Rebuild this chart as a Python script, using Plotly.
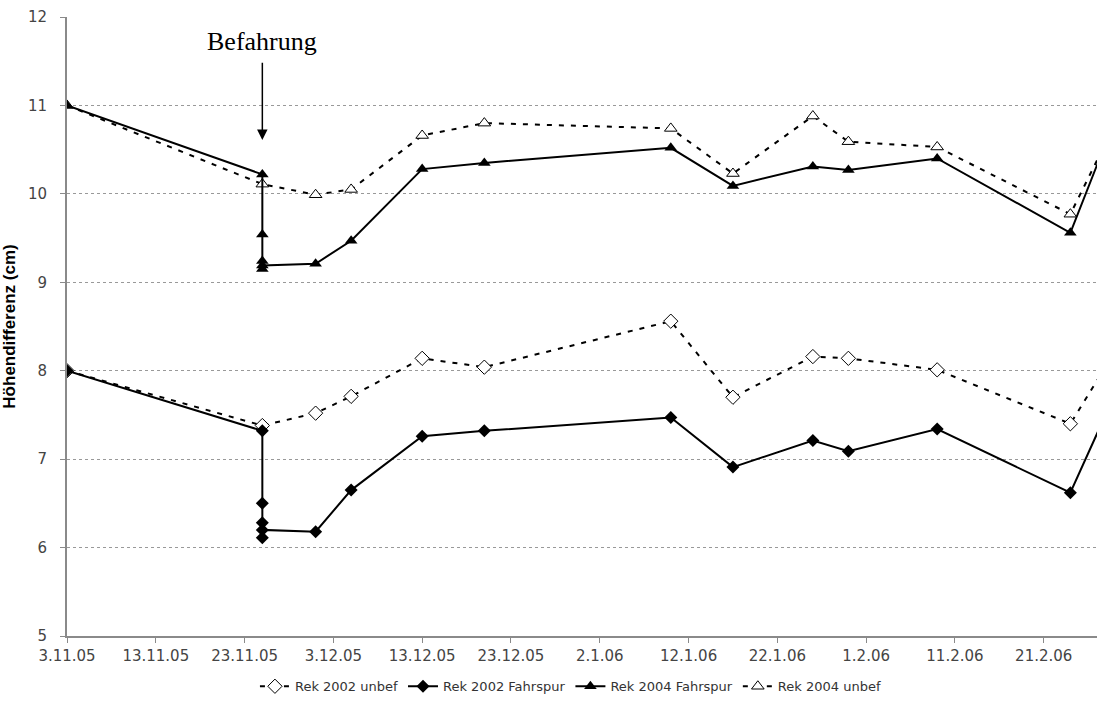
import plotly.graph_objects as go

# Measurement dates (d.m.yy in the source notes) and heights in cm
BEFAHRUNG = "2005-11-25"

dates_2002_unbef = ["2005-11-03", "2005-11-25", "2005-12-01", "2005-12-05", "2005-12-13",
                    "2005-12-20", "2006-01-10", "2006-01-17", "2006-01-26", "2006-01-30",
                    "2006-02-09", "2006-02-24", "2006-02-28"]
vals_2002_unbef = [8.00, 7.38, 7.52, 7.71, 8.14, 8.04, 8.56, 7.70, 8.16, 8.14, 8.01, 7.40, 8.05]

dates_2002_fahr = ["2005-11-03", "2005-11-25", "2005-11-25", "2005-11-25", "2005-11-25",
                   "2005-11-25", "2005-12-01", "2005-12-05", "2005-12-13", "2005-12-20",
                   "2006-01-10", "2006-01-17", "2006-01-26", "2006-01-30", "2006-02-09",
                   "2006-02-24", "2006-02-28"]
vals_2002_fahr = [8.00, 7.32, 6.50, 6.28, 6.11, 6.20, 6.18, 6.65, 7.26, 7.32,
                  7.47, 6.91, 7.21, 7.09, 7.34, 6.62, 7.51]

dates_2004_fahr = list(dates_2002_fahr)
vals_2004_fahr = [11.00, 10.22, 9.54, 9.24, 9.15, 9.19, 9.21, 9.47, 10.28, 10.35,
                  10.52, 10.09, 10.31, 10.27, 10.40, 9.56, 10.58]

dates_2004_unbef = list(dates_2002_unbef)
vals_2004_unbef = [11.00, 10.11, 9.99, 10.05, 10.66, 10.80, 10.74, 10.23, 10.88, 10.59,
                   10.53, 9.77, 10.58]

tick_dates = ["2005-11-03", "2005-11-13", "2005-11-23", "2005-12-03", "2005-12-13",
              "2005-12-23", "2006-01-02", "2006-01-12", "2006-01-22", "2006-02-01",
              "2006-02-11", "2006-02-21"]
tick_text = ["3.11.05", "13.11.05", "23.11.05", "3.12.05", "13.12.05", "23.12.05",
             "2.1.06", "12.1.06", "22.1.06", "1.2.06", "11.2.06", "21.2.06"]

DASH = "5px,7px"
fig = go.Figure()

# untrafficked plots (dashed, open markers) drawn first
fig.add_trace(go.Scatter(
    x=dates_2002_unbef, y=vals_2002_unbef, name="Rek 2002 unbef", legendrank=1,
    mode="lines+markers", line=dict(color="black", width=2, dash=DASH),
    marker=dict(symbol="diamond", size=11, color="white", line=dict(color="black", width=1))))
fig.add_trace(go.Scatter(
    x=dates_2004_unbef, y=vals_2004_unbef, name="Rek 2004 unbef", legendrank=4,
    mode="lines+markers", line=dict(color="black", width=2, dash=DASH),
    marker=dict(symbol="triangle-up", size=11, color="white", line=dict(color="black", width=1))))
# wheel track plots (solid, filled markers)
fig.add_trace(go.Scatter(
    x=dates_2002_fahr, y=vals_2002_fahr, name="Rek 2002 Fahrspur", legendrank=2,
    mode="lines+markers", line=dict(color="black", width=2),
    marker=dict(symbol="diamond", size=10, color="black")))
fig.add_trace(go.Scatter(
    x=dates_2004_fahr, y=vals_2004_fahr, name="Rek 2004 Fahrspur", legendrank=3,
    mode="lines+markers", line=dict(color="black", width=2),
    marker=dict(symbol="triangle-up", size=11, color="black")))

# "Befahrung" marker: label plus downward arrow
fig.add_annotation(x=BEFAHRUNG, y=11.72, text="Befahrung", showarrow=False,
                   font=dict(family="Liberation Serif", size=26, color="black"))
fig.add_annotation(x=BEFAHRUNG, y=10.61, ax=BEFAHRUNG, ay=11.5, axref="x", ayref="y",
                   text="", showarrow=True, arrowhead=2, arrowsize=1.4, arrowwidth=1.5,
                   arrowcolor="black")

fig.update_layout(
    width=1097, height=709,
    margin=dict(l=67, r=0, t=17, b=73),
    paper_bgcolor="white", plot_bgcolor="white",
    font=dict(family="DejaVu Sans", size=15, color="#444"),
    showlegend=True,
    legend=dict(orientation="h", xref="container", yref="container",
                x=0.52, y=0.032, xanchor="center", yanchor="middle",
                font=dict(family="DejaVu Sans", size=13, color="#333"),
                traceorder="normal", itemwidth=30),
    xaxis=dict(type="date", range=["2005-11-03", "2006-02-27"],
               tickmode="array", tickvals=tick_dates, ticktext=tick_text,
               showgrid=False, showline=True, linecolor="#8a8a8a", linewidth=2,
               ticks="outside", ticklen=5, tickcolor="#8a8a8a", zeroline=False,
               tickfont=dict(size=15, color="#444")),
    yaxis=dict(range=[5, 12], dtick=1, tick0=5,
               showgrid=True, gridcolor="#999", griddash="dot", gridwidth=1,
               showline=True, linecolor="#8a8a8a", linewidth=2,
               ticks="outside", ticklen=5, tickcolor="#8a8a8a", zeroline=False,
               ticklabelstandoff=10, tickfont=dict(size=15, color="#444"),
               title=dict(text="Höhendifferenz (cm)", standoff=14,
                          font=dict(family="Liberation Sans", size=17, color="black",
                                    weight="bold"))),
)

fig.write_html("out.html")
